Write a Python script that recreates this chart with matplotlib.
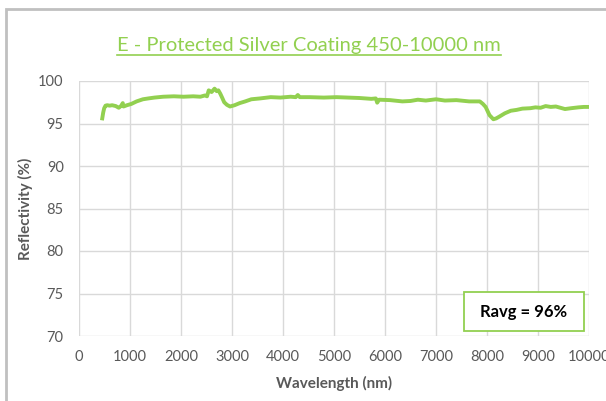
import numpy as np
import matplotlib
matplotlib.use("Agg")
import matplotlib.pyplot as plt
from matplotlib.lines import Line2D
from matplotlib.patches import Rectangle

plt.rcParams['font.family'] = ['Lato', 'DejaVu Sans']

# reflectivity curve
wavelength = [456, 475, 494, 520, 554, 600, 650, 721, 780, 830, 858, 873, 940, 1025, 1130,
              1253, 1360, 1480, 1650, 1860, 2050, 2240, 2380, 2468, 2510, 2544, 2600,
              2658, 2700, 2733, 2771, 2810, 2847, 2900, 2961, 3050, 3151, 3260, 3379,
              3550, 3759, 3950, 4150, 4250, 4290, 4330, 4518, 4800, 5050, 5277, 5500,
              5733, 5820, 5847, 5885, 6100, 6340, 6500, 6644, 6800, 7000, 7175, 7400,
              7650, 7859, 7920, 7973, 8049, 8125, 8180, 8239, 8350, 8466, 8580, 8694,
              8850, 8950, 9050, 9150, 9250, 9350, 9529, 9650, 9795, 9900, 10000]
reflect = [95.6, 96.3, 96.8, 97.1, 97.15, 97.1, 97.15, 97.05, 96.85, 97.1, 97.4, 97.0, 97.15, 97.3,
           97.6, 97.85, 97.95, 98.05, 98.15, 98.2, 98.15, 98.2, 98.15, 98.3, 98.2, 98.9, 98.7,
           99.1, 98.8, 98.9, 98.5, 98.0, 97.5, 97.2, 97.0, 97.15, 97.4, 97.6, 97.85,
           97.95, 98.1, 98.05, 98.15, 98.1, 98.35, 98.1, 98.1, 98.05, 98.1, 98.05, 98.0,
           97.9, 97.95, 97.45, 97.8, 97.75, 97.6, 97.65, 97.8, 97.7, 97.85, 97.7, 97.75,
           97.6, 97.6, 97.3, 96.95, 95.98, 95.5, 95.6, 95.8, 96.2, 96.5, 96.6, 96.75,
           96.8, 96.9, 96.85, 97.05, 96.95, 97.0, 96.7, 96.8, 96.9, 96.95, 96.95]

x_ticks = [0, 1000, 2000, 3000, 4000, 5000, 6000, 7000, 8000, 9000, 10000]
y_ticks = [70, 75, 80, 85, 90, 95, 100]
title = "E - Protected Silver Coating 450-10000 nm"
note = "Ravg = 96%"

green = '#92D050'
grey_txt = '#595959'

fig = plt.figure(figsize=(6.06, 4.01), dpi=100)
ax = fig.add_axes([79/606, 1-336/401, 510/606, 255/401])

ax.plot(wavelength, reflect, color=green, linewidth=2.8, solid_joinstyle='round')

ax.set_xlim(0, 10000)
ax.set_ylim(70, 100)
ax.set_xticks(x_ticks)
ax.set_yticks(y_ticks)
ax.grid(True, color='#d9d9d9', linewidth=1)
ax.set_axisbelow(True)
for s in ax.spines.values():
    s.set_visible(False)
ax.tick_params(length=0, colors=grey_txt, labelsize=10.5)
ax.tick_params(axis='x', pad=10)
ax.tick_params(axis='y', pad=11)
ax.set_xlabel("Wavelength (nm)", fontsize=11, fontweight='bold', color=grey_txt, labelpad=9)
ax.set_ylabel("Reflectivity (%)", fontsize=11, fontweight='bold', color=grey_txt, labelpad=4)

# Ravg box
ax.add_patch(Rectangle((0.755, 0.02), 0.235, 0.153, transform=ax.transAxes,
                       fc='white', ec=green, lw=1.3, zorder=5))
ax.text(0.8725, 0.096, note, transform=ax.transAxes, ha='center', va='center',
        fontsize=12, fontweight='bold', color='black', zorder=6)

# title with underline
t = fig.text(309/606, 1-45/401, title, ha='center', va='center', fontsize=14.5, color=green)
fig.canvas.draw()
bb = t.get_window_extent()
uy = bb.y0 - 1
fig.add_artist(Line2D([bb.x0/606, bb.x1/606], [uy/401, uy/401], color=green, lw=1.2,
                      transform=fig.transFigure))

# chart frame
fig.add_artist(Rectangle((6/606, -0.1), 1.2, 1-9/401+0.1, transform=fig.transFigure,
                         fill=False, ec='#c0c0c0', lw=2, clip_on=False))

fig.savefig("out.png", dpi=100)
